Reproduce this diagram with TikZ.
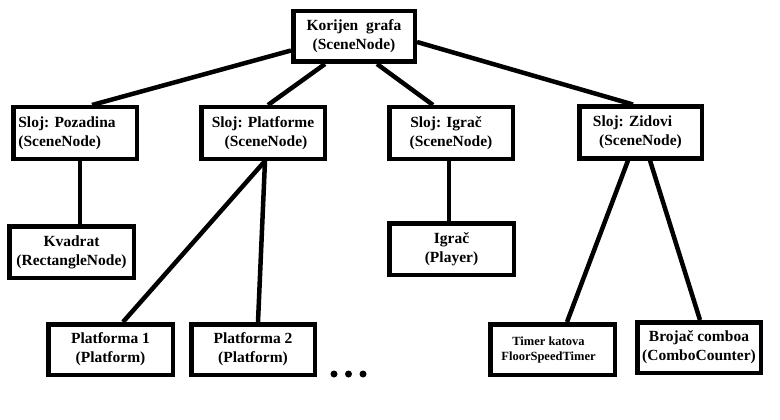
\documentclass[tikz,border=0pt]{standalone}
\usepackage{fontspec}
\setmainfont{Liberation Serif}
\begin{document}
\begin{tikzpicture}[x=1pt,y=-1pt,
  box/.style={draw=black,line width=4.5pt,fill=white,minimum width=123.5pt,minimum height=51.5pt,
    inner sep=0pt,align=center,font=\bfseries\fontsize{15.5}{19}\selectfont},
  smallbox/.style={box,font=\bfseries\fontsize{12.5}{15}\selectfont},
  link/.style={line width=4.5pt,black},
  dot/.style={circle,fill=black,inner sep=0pt,minimum size=7pt}]
\useasboundingbox (0,0) rectangle (780,420);
% nodes
\node[box,minimum width=121.5pt,minimum height=50.5pt] (root) at (354,36.5) {Korijen~~grafa\\(SceneNode)};
\node[box,align=left] (poz) at (75,133) {Sloj: Pozadina\hspace*{16pt}\\(SceneNode)};
\node[box] (plat) at (263,133) {Sloj: Platforme\\\hspace*{6pt}(SceneNode)};
\node[box] (igl) at (451,133) {Sloj: Igra\v{c}\hspace*{10pt}\\(SceneNode)};
\node[box,minimum width=122.5pt] (zid) at (640.5,132.5) {Sloj: Zidovi\hspace*{16pt}\\(SceneNode)};
\node[box,minimum width=124.5pt] (kva) at (71.5,252) {Kvadrat\\(RectangleNode)};
\node[box,minimum width=124.5pt,minimum height=50.5pt] (p1) at (110.5,349.5) {Platforma 1\\(Platform)};
\node[box,minimum height=50.5pt] (p2) at (253,349.5) {Platforma 2\\(Platform)};
\node[box,minimum width=124.5pt] (igr) at (451.5,249) {Igra\v{c}\\(Player)};
\node[smallbox,minimum width=124.5pt,minimum height=50.5pt] (tim) at (552.5,349.5) {Timer katova\hspace*{8pt}\\FloorSpeedTimer\hspace*{8pt}};
\node[box,minimum height=50.5pt] (bro) at (699,347.5) {Broja\v{c} comboa\\(ComboCounter)};
% dots
\node[dot] (d1) at (334,374) {};
\node[dot] (d2) at (348.5,374) {};
\node[dot] (d3) at (363,374) {};
% connectors
\draw[link] ([yshift=-14pt]root.west) -- ([xshift=17pt]poz.north);
\draw[link] ([xshift=-29pt]root.south) -- ([xshift=5pt]plat.north);
\draw[link] ([xshift=23pt]root.south) -- ([xshift=-18pt]igl.north);
\draw[link] ([yshift=-5.5pt]root.east) -- ([xshift=-7.5pt]zid.north);
\draw[link] ([xshift=5pt]poz.south) -- ([xshift=8.5pt]kva.north);
\draw[link] ([xshift=2pt]plat.south) -- ([xshift=12.5pt]p1.north);
\draw[link] ([xshift=2pt]plat.south) -- ([xshift=5pt]p2.north);
\draw[link] ([xshift=-2pt]igl.south) -- ([xshift=-2.5pt]igr.north);
\draw[link] ([xshift=-12.5pt]zid.south) -- ([xshift=14.5pt]tim.north);
\draw[link] ([xshift=9.5pt]zid.south) -- ([xshift=1pt]bro.north);
\end{tikzpicture}
\end{document}
